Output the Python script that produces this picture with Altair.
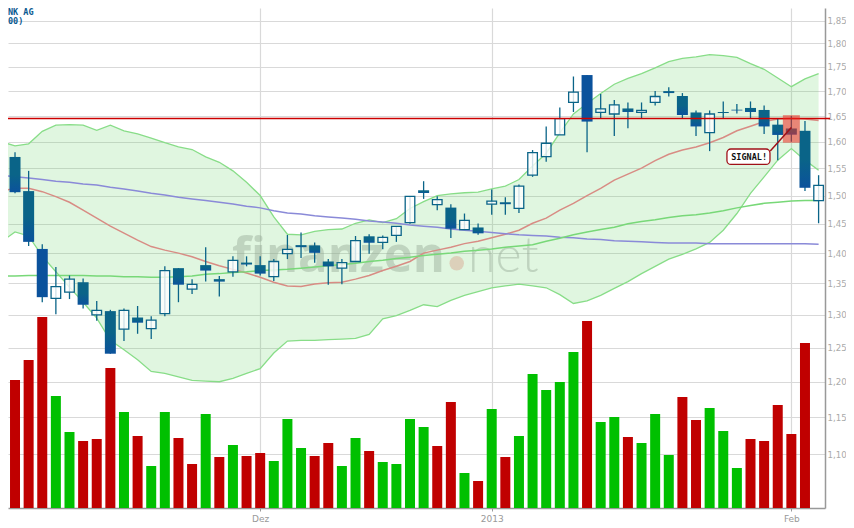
import pandas as pd
import altair as alt

opens = [1.536,1.571,1.508,1.407,1.326,1.336,1.352,1.300,1.306,1.278,1.296,1.279,1.302,1.375,1.341,1.380,1.357,1.369,1.3842,1.380,1.361,
         1.399,1.4135,1.413,1.386,1.375,1.386,1.4285,1.418,1.430,1.452,1.5095,1.4837,1.4785,1.440,1.4437,1.4845,1.488,1.477,1.537,1.5715,
         1.613,1.677,1.733,1.657,1.654,1.665,1.657,1.677,1.700,1.690,1.657,1.6175,1.658,1.6625,1.666,1.662,1.633,1.6255,1.621,1.491]
highs = [1.566,1.580,1.545,1.415,1.377,1.363,1.358,1.322,1.308,1.310,1.314,1.298,1.378,1.375,1.357,1.410,1.362,1.3946,1.3946,1.3946,1.390,
         1.4307,1.435,1.418,1.390,1.390,1.429,1.432,1.430,1.4455,1.4985,1.526,1.4985,1.4845,1.468,1.4507,1.511,1.497,1.520,1.584,1.6295,
         1.667,1.730,1.733,1.694,1.682,1.677,1.677,1.700,1.708,1.696,1.661,1.661,1.679,1.674,1.679,1.671,1.644,1.650,1.640,1.537]
lows = [1.532,1.504,1.412,1.320,1.301,1.325,1.310,1.291,1.241,1.260,1.271,1.263,1.298,1.320,1.333,1.353,1.329,1.361,1.378,1.363,1.354,
        1.390,1.392,1.384,1.348,1.3486,1.386,1.399,1.4063,1.419,1.450,1.494,1.474,1.4255,1.440,1.431,1.466,1.466,1.469,1.534,1.562,
        1.613,1.658,1.580,1.644,1.611,1.626,1.645,1.671,1.689,1.645,1.611,1.582,1.644,1.655,1.644,1.615,1.565,1.600,1.508,1.451]
closes = [1.564,1.506,1.419,1.328,1.345,1.357,1.316,1.307,1.241,1.307,1.288,1.292,1.371,1.348,1.3486,1.371,1.353,1.388,1.381,1.366,1.386,
          1.4063,1.410,1.4005,1.378,1.384,1.421,1.4175,1.4267,1.4455,1.4985,1.5046,1.4926,1.4415,1.456,1.4336,1.490,1.4845,1.517,1.579,1.597,
          1.645,1.698,1.639,1.664,1.672,1.658,1.661,1.689,1.696,1.652,1.6295,1.654,1.656,1.661,1.658,1.6295,1.613,1.6135,1.514,1.5185]

boll_up = [1.6,1.592,1.596,1.62,1.632,1.633,1.632,1.622,1.632,1.621,1.615,1.607,1.598,1.59,1.585,1.571,1.561,1.545,1.524,1.5,1.462,1.432,1.431,1.437,1.44,1.441,1.451,1.457,1.452,1.459,1.477,1.489,1.5,1.503,1.505,1.506,1.512,1.517,1.529,1.554,1.578,1.617,1.654,1.675,1.695,1.714,1.726,1.736,1.748,1.761,1.768,1.771,1.776,1.774,1.77,1.757,1.745,1.727,1.709,1.725,1.736]
boll_lo = [1.419,1.436,1.429,1.395,1.369,1.344,1.32,1.295,1.261,1.247,1.232,1.215,1.212,1.207,1.202,1.201,1.2,1.205,1.212,1.219,1.242,1.26,1.261,1.261,1.262,1.263,1.264,1.27,1.294,1.299,1.307,1.316,1.313,1.323,1.331,1.337,1.343,1.346,1.349,1.346,1.343,1.332,1.318,1.322,1.331,1.342,1.353,1.366,1.378,1.39,1.398,1.407,1.418,1.439,1.468,1.504,1.534,1.565,1.587,1.565,1.546]
boll_mid = [1.508,1.513,1.513,1.507,1.498,1.488,1.474,1.46,1.446,1.434,1.422,1.411,1.405,1.4,1.394,1.386,1.379,1.373,1.367,1.36,1.352,1.346,1.345,1.349,1.351,1.352,1.357,1.363,1.371,1.378,1.386,1.4,1.405,1.41,1.416,1.42,1.426,1.432,1.439,1.451,1.46,1.474,1.486,1.5,1.513,1.528,1.539,1.55,1.564,1.576,1.584,1.59,1.598,1.608,1.621,1.63,1.639,1.644,1.645,1.644,1.641]
avg_blue = [1.537,1.534,1.532,1.529,1.526,1.524,1.521,1.519,1.515,1.512,1.508,1.504,1.501,1.497,1.494,1.491,1.488,1.485,1.481,1.478,1.473,1.469,1.467,1.464,1.462,1.46,1.458,1.455,1.453,1.451,1.448,1.446,1.444,1.441,1.439,1.437,1.435,1.433,1.431,1.43,1.429,1.427,1.426,1.424,1.423,1.421,1.42,1.419,1.418,1.417,1.417,1.417,1.416,1.416,1.416,1.416,1.416,1.416,1.416,1.416,1.415]
avg_green = [1.362,1.362,1.363,1.363,1.363,1.363,1.363,1.362,1.362,1.361,1.361,1.36,1.36,1.361,1.362,1.365,1.366,1.368,1.369,1.371,1.372,1.373,1.375,1.377,1.379,1.381,1.383,1.386,1.388,1.391,1.393,1.396,1.398,1.4,1.403,1.405,1.407,1.41,1.412,1.414,1.42,1.425,1.431,1.436,1.44,1.444,1.45,1.454,1.457,1.461,1.464,1.466,1.469,1.473,1.478,1.482,1.486,1.488,1.49,1.491,1.491]

volume = [67,128,148,191,112,76,67,69,140,96,72,42,96,70,44,94,51,63,52,55,47,89,60,52,65,42,70,57,46,44,89,81,
          62,106,35,27,99,51,72,134,118,126,156,187,86,91,71,65,94,53,111,88,100,77,40,69,67,103,74,165]
vol_up = [1,0,0,0,1,1,0,0,0,1,0,1,1,0,0,1,0,1,0,0,1,1,1,0,0,1,1,0,1,1,1,1,
          0,0,1,0,1,0,1,1,1,1,1,0,1,1,0,1,1,1,0,0,1,1,1,0,0,0,0,0]

price_ticks = [1.10,1.15,1.20,1.25,1.30,1.35,1.40,1.45,1.50,1.55,1.60,1.65,1.70,1.75,1.80,1.85]
date_ticks = [19, 36, 58]
date_labels = ["Dez", "2013", "Feb"]
signal_day = 58
resistance = 1.645

teal = "#0a6488"
blue = "#0b529c"
grid = "#d9d9d9"
wm = "#90a390"

df = pd.DataFrame({"i": range(61), "o": opens, "h": highs, "l": lows, "c": closes,
                   "up": boll_up, "lo": boll_lo, "mid": boll_mid, "sma_b": avg_blue, "sma_g": avg_green})
df["top"] = df[["o", "c"]].max(axis=1)
df["bot"] = df[["o", "c"]].min(axis=1)
hollow = df[df.c > df.o]
solid = df[(df.c <= df.o) & (~df.i.isin([3, 43]))]
solid_blue = df[df.i.isin([3, 43])]
vols = pd.DataFrame({"i": range(60), "v": volume, "up": vol_up})

x_scale = alt.Scale(domain=[0.485, 60.47], nice=False, zero=False, padding=0)
y_scale = alt.Scale(type="log", domain=[1.0315, 1.878], nice=False, padding=0)

label_expr = "{" + ",".join(f"{t}:'{l}'" for t, l in zip(date_ticks, date_labels)) + "}[datum.value]"
x_axis = alt.Axis(values=date_ticks, labelExpr=label_expr, title=None, grid=True, gridColor=grid, gridWidth=1.2,
                  domainColor="#999999", domainWidth=1.5, tickColor="#999999", tickSize=3, labelColor="#999999",
                  labelFont="DejaVu Sans", labelFontSize=9, labelPadding=3, labelFlush=False)
y_axis = alt.Axis(orient="right", values=price_ticks, labelExpr="replace(format(datum.value,'.2f'),'.',',')", title=None,
                  grid=True, gridColor=grid, gridWidth=1.2, domainColor="#999999", domainWidth=1.5, ticks=False,
                  labelColor="#aaaaaa", labelFont="DejaVu Sans", labelFontSize=8.6, labelPadding=2)

X = alt.X("i:Q", scale=x_scale, axis=x_axis)
Y = lambda f: alt.Y(f, type="quantitative", scale=y_scale, axis=y_axis)

band = alt.Chart(df).mark_area(color="#64d264", opacity=0.2, clip=True).encode(x=X, y=Y("up"), y2="lo:Q")

# finanzen.net watermark
wm_a = alt.Chart(pd.DataFrame({"i": [16.93], "p": [1.369], "t": ["finanzen"]})).mark_text(
    align="left", baseline="alphabetic", font="Open Sans", fontWeight="bold", fontSize=49, color=wm, opacity=0.4
).encode(x=X, y=Y("p"), text="t:N")
wm_dot = alt.Chart(pd.DataFrame({"i": [33.43], "p": [1.383]})).mark_circle(size=210, color="#d8b8a0", opacity=0.6).encode(x=X, y=Y("p"))
wm_b = alt.Chart(pd.DataFrame({"i": [34.26], "p": [1.369], "t": ["net"]})).mark_text(
    align="left", baseline="alphabetic", font="Lato", fontWeight=300, fontSize=50, color=wm, opacity=0.4
).encode(x=X, y=Y("p"), text="t:N")

line = lambda f, col, w: alt.Chart(df).mark_line(color=col, strokeWidth=w, clip=True).encode(x=X, y=Y(f))
band_up = line("up", "#88dd88", 1.3)
band_lo = line("lo", "#88dd88", 1.3)
band_mid = line("mid", "#d88c84", 1.5)
sma_blue = line("sma_b", "#8a8ad8", 1.5)
sma_green = line("sma_g", "#78d878", 1.5)

wicks = alt.Chart(df).mark_rule(color=teal, strokeWidth=1.3, clip=True).encode(x=X, y=Y("l"), y2="h:Q")
body_hollow = alt.Chart(hollow).mark_bar(size=9.6, fill="#ffffff", fillOpacity=0.8, stroke=teal, strokeWidth=1.3, clip=True).encode(
    x=X, y=Y("bot"), y2="top:Q")
grad = alt.Gradient(gradient="linear", x1=0, y1=0, x2=0, y2=1,
                    stops=[alt.GradientStop(color=teal, offset=0), alt.GradientStop(color=teal, offset=0.5), alt.GradientStop(color=blue, offset=1)])
body_solid = alt.Chart(solid).mark_bar(size=11, color=grad, clip=True).encode(x=X, y=Y("bot"), y2="top:Q")
body_blue = alt.Chart(solid_blue).mark_bar(size=11, color=blue, clip=True).encode(x=X, y=Y("bot"), y2="top:Q")

res_line = alt.Chart(pd.DataFrame({"p": [resistance]})).mark_rule(color="#cc0000", strokeWidth=1.4).encode(
    x=alt.value(0), x2=alt.value(822), y=Y("p"))

signal_box = alt.Chart(pd.DataFrame({"i": [signal_day], "a": [1.598], "b": [1.6517]})).mark_bar(
    size=17, color="#ee2a20", opacity=0.55).encode(x=X, y=Y("a"), y2="b:Q")
signal_line = alt.Chart(pd.DataFrame({"i": [56.45], "i2": [signal_day], "a": [1.582], "b": [1.6275]})).mark_rule(
    color="#a01018", strokeWidth=1.5).encode(x=X, x2="i2:Q", y=Y("a"), y2="b:Q")
signal_label = alt.Chart(pd.DataFrame({"i": [53.27], "i2": [56.43], "a": [1.557], "b": [1.586]})).mark_rect(
    fill="#ffffff", stroke="#a01018", strokeWidth=1.3, cornerRadius=4).encode(x=X, x2="i2:Q", y=Y("a"), y2="b:Q")
signal_text = alt.Chart(pd.DataFrame({"i": [54.9], "p": [1.5715], "t": ["SIGNAL!"]})).mark_text(
    font="DejaVu Sans Mono", fontWeight="bold", fontSize=8.5, color="#111111", baseline="middle").encode(x=X, y=Y("p"), text="t:N")

caption_a = alt.Chart(pd.DataFrame({"t": ["NK AG"]})).mark_text(
    align="left", baseline="alphabetic", font="DejaVu Sans Mono", fontWeight="bold", fontSize=8.5, color="#0a5a90"
).encode(x=alt.value(0), y=alt.value(7), text="t:N")
caption_b = alt.Chart(pd.DataFrame({"t": ["00)"]})).mark_text(
    align="left", baseline="alphabetic", font="DejaVu Sans Mono", fontWeight="bold", fontSize=8.5, color="#0a5a90"
).encode(x=alt.value(0), y=alt.value(16), text="t:N")

price = alt.layer(band, wm_a, wm_dot, wm_b, band_up, band_lo, band_mid, sma_blue, sma_green, wicks, body_hollow, body_solid,
                  body_blue, res_line, signal_box, signal_line, signal_label, signal_text, caption_a, caption_b)

bars = alt.Chart(vols).mark_bar(size=10, clip=True).encode(
    x=X,
    y=alt.Y("v:Q", scale=alt.Scale(domain=[0, 500], nice=False), axis=None),
    color=alt.Color("up:N", scale=alt.Scale(domain=[0, 1], range=["#c00000", "#00c000"]), legend=None),
)

chart = alt.layer(price, bars).resolve_scale(y="independent", color="independent").properties(
    width=817, height=500, padding={"left": 0, "top": 0, "right": 21, "bottom": 17}, autosize=alt.AutoSizeParams(type="none")
).configure_view(stroke=None)

chart.save("out.html", embed_options={"renderer": "svg", "actions": False})
